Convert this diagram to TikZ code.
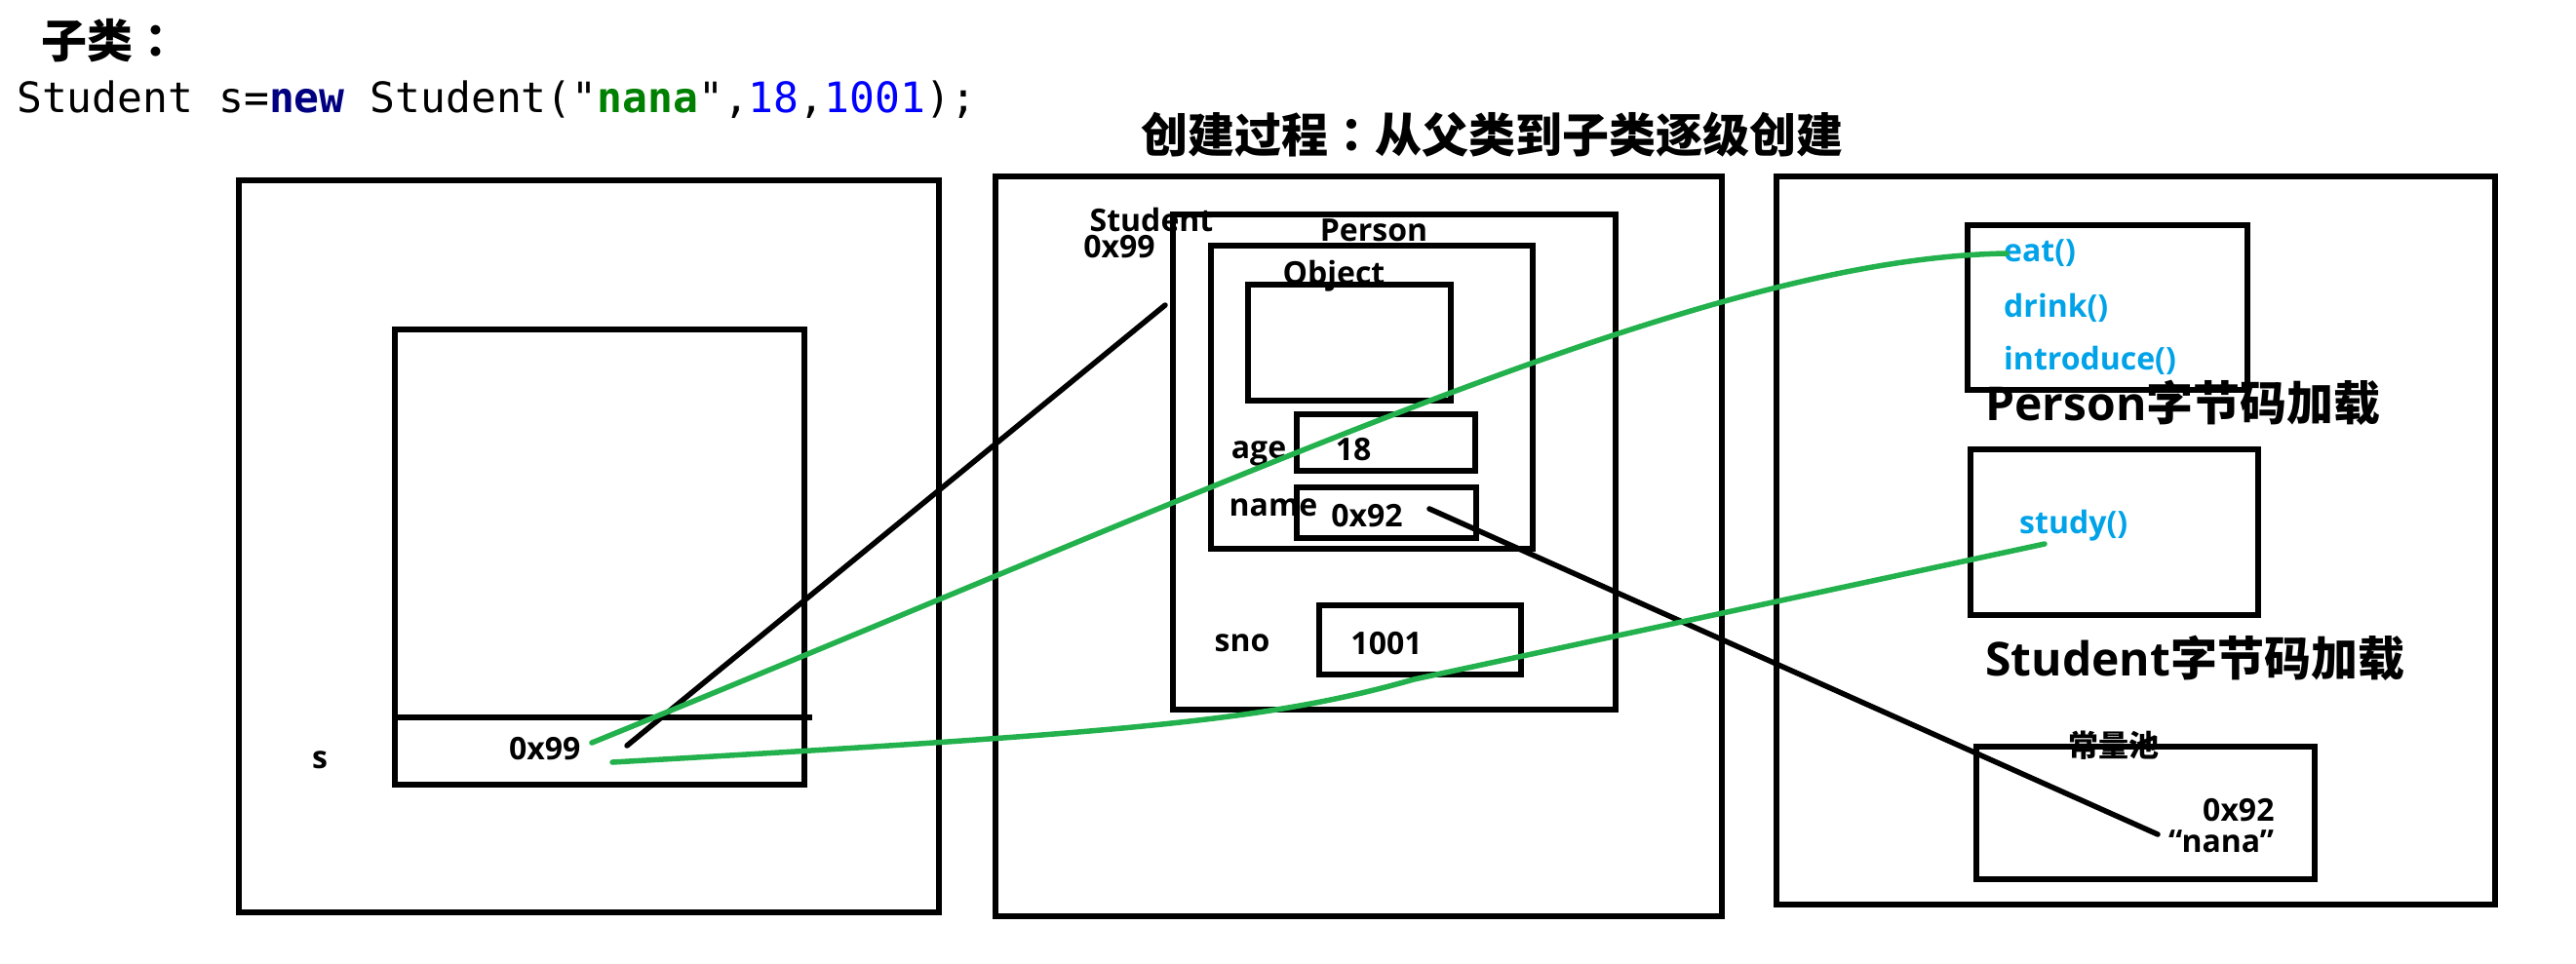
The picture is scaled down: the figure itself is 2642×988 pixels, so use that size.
\documentclass[tikz,border=0pt]{standalone}
\usepackage{fontspec}
\setmainfont{Open Sans}
\newfontfamily\cjk{Noto Sans CJK SC}
\newfontfamily\cjktc{Noto Sans CJK TC}
\newfontfamily\mono{DejaVu Sans Mono}
\definecolor{methblue}{HTML}{00A2E8}
\definecolor{pgreen}{HTML}{22B14C}
\definecolor{kwblue}{HTML}{000080}
\definecolor{strgreen}{HTML}{008000}
\definecolor{numblue}{HTML}{0000FF}
\begin{document}
\begin{tikzpicture}[x=1pt,y=-1pt,
  box/.style={draw=black, line width=6pt, inner sep=0pt, outer sep=0pt},
  lbl/.style={font=\fontsize{32}{36}\selectfont\bfseries, inner sep=0pt},
  meth/.style={lbl, text=methblue, anchor=west},
  big/.style={font=\fontsize{48}{52}\selectfont\bfseries, inner sep=0pt, anchor=west},
  link/.style={line width=5.5pt, line cap=round, draw=black},
  glink/.style={link, draw=pgreen}]
\useasboundingbox (0,0) rectangle (2642,988);

% headings
\node[anchor=west, inner sep=0pt, font=\cjk\bfseries\fontsize{47}{50}\selectfont] (sub) at (42,42) {子类{\cjktc ：}};
\node[anchor=west, inner sep=0pt, font=\mono\fontsize{43}{48}\selectfont] (code) at (17,102)
  {Student s=\textcolor{kwblue}{\bfseries new} Student("\textcolor{strgreen}{\bfseries nana}",\textcolor{numblue}{18},\textcolor{numblue}{1001});};
\node[anchor=west, inner sep=0pt, font=\cjk\bfseries\fontsize{48}{52}\selectfont] (title) at (1170,138) {创建过程{\cjktc ：}从父类到子类逐级创建};

% left (stack) labels
\node[lbl] (slbl) at (328,780) {s};
\node[lbl, anchor=west] (s99) at (522,768) {0x99};

% middle (heap) labels
\node[lbl] (stulbl) at (1181,225) {Student};
\node[lbl] (stuaddr) at (1148,253) {0x99};
\node[lbl] (perlbl) at (1409,236) {Person};
\node[lbl] (objlbl) at (1368,283) {Object};
\node[lbl] (agelbl) at (1291,465) {age};
\node[lbl] (ageval) at (1388,461) {18};
\node[lbl] (namelbl) at (1306,521) {name};
\node[lbl] (nameval) at (1402,529) {0x92};
\node[lbl] (snolbl) at (1274,660) {sno};
\node[lbl] (snoval) at (1422,660) {1001};

% right (method area) labels
\node[meth] (eat) at (2055,260) {eat()};
\node[meth] (drink) at (2055,316) {drink()};
\node[meth] (intro) at (2055,370) {introduce()};
\node[big] (pbc) at (2036,413) {Person{\cjk 字节码加载}};
\node[meth] (study) at (2071,539) {study()};
\node[big] (sbc) at (2036,675) {Student{\cjk 字节码加载}};
\node[lbl, font=\cjk\bfseries\fontsize{31}{34}\selectfont] (poollbl) at (2168,765) {常量池};
\node[lbl, anchor=west] (pooladdr) at (2259,831) {0x92};
\node[lbl, anchor=west] (poolstr) at (2224,863) {“nana”};

% boxes
\draw[box] (245,185) rectangle (963,936);
\draw[box] (405,338) rectangle (825,805);
\draw[box] (405,736) -- (833,736);
\draw[box] (1021,181) rectangle (1766,940);
\draw[box] (1203,220) rectangle (1657,728);
\draw[box] (1242,252) rectangle (1572,563);
\draw[box] (1280,292) rectangle (1488,411);
\draw[box] (1330,425) rectangle (1513,483);
\draw[box] (1330,500) rectangle (1514,552);
\draw[box] (1353,621) rectangle (1560,692);
\draw[box] (1822,181) rectangle (2559,928);
\draw[box] (2018,231) rectangle (2305,400);
\draw[box] (2021,461) rectangle (2316,631);
\draw[box] (2027,766) rectangle (2374,902);

% connector end points
\coordinate (refA) at (643,765);
\coordinate (objA) at (1195,313);
\coordinate (nameA) at (1466,522);
\coordinate (strA) at (2213,856);
\coordinate (g1a) at (607,762);
\coordinate (g1b) at (2058,260);
\coordinate (g2a) at (628,782);
\coordinate (g2m) at (1450,697);
\coordinate (g2b) at (2097,558);

% connectors
\draw[link] (refA) -- (objA);
\draw[link] (nameA) -- (strA);
\draw[glink] (g1a) .. controls (1300,480) and (1750,265) .. (g1b);
\draw[glink] (g2a) .. controls (1150,752) and (1300,740) .. (g2m) -- (g2b);
\end{tikzpicture}
\end{document}
